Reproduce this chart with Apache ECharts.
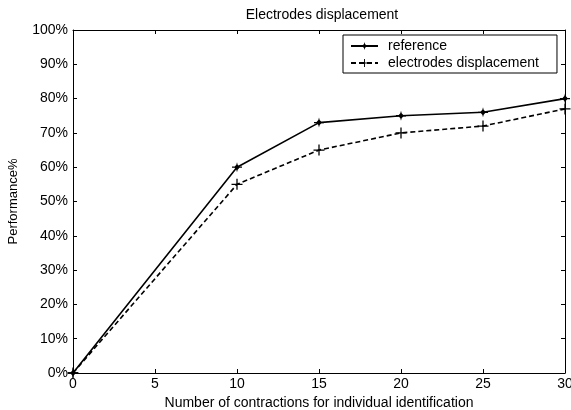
<!DOCTYPE html>
<html>
<head>
<meta charset="utf-8">
<script src="https://cdn.jsdelivr.net/npm/echarts@6/dist/echarts.min.js"></script>
<style>
html,body{margin:0;padding:0;background:#fff;}
#chart{width:571px;height:410px;}
</style>
</head>
<body>
<div id="chart"></div>
<script>
var xValues = [0, 10, 15, 20, 25, 30];
var referenceValues = [0, 60, 73, 75, 76, 80];
var electrodeValues = [0, 55, 65, 70, 72, 77];
var xTicks = [0, 5, 10, 15, 20, 25, 30];
var yTicks = ['0%','10%','20%','30%','40%','50%','60%','70%','80%','90%','100%'];

var FONT = '"Liberation Sans", Arial, sans-serif';
var FS = 14;
var plusPath = 'path://M-0.7,-6 L0.7,-6 L0.7,-0.7 L6,-0.7 L6,0.7 L0.7,0.7 L0.7,6 L-0.7,6 L-0.7,0.7 L-6,0.7 L-6,-0.7 L-0.7,-0.7 Z';
var starPath = 'path://M0,-6 L0.8,-3 L3.5,0 L0.8,3 L0,6 L-0.8,3 L-3.5,0 L-0.8,-3 Z M-6,-0.8 L6,-0.8 L6,0.8 L-6,0.8 Z';

function pairs(xs, ys){ return xs.map(function(x,i){ return [x, ys[i]]; }); }

var chart = echarts.init(document.getElementById('chart'));
function axisCommon(){
  return {
    axisLine: {show: true, onZero: false, lineStyle: {color: '#000', width: 1}},
    axisTick: {show: true, inside: true, length: 4, lineStyle: {color: '#000'}},
    splitLine: {show: false}
  };
}
chart.setOption({
  animation: false,
  backgroundColor: '#fff',
  textStyle: {fontFamily: FONT},
  title: {
    text: 'Electrodes displacement',
    left: 317, top: 3, textAlign: 'center',
    textStyle: {fontFamily: FONT, fontSize: 14, fontWeight: 'normal', color: '#000'}
  },
  legend: {
    left: 343, top: 35,
    orient: 'vertical',
    backgroundColor: '#fff',
    borderColor: '#000', borderWidth: 1, borderRadius: 0,
    padding: [4, 18, 3, 7],
    itemWidth: 27, itemHeight: 10, itemGap: 3,
    textStyle: {fontFamily: FONT, fontSize: 14, color: '#000', padding: [0, 0, 0, 5]},
    data: ['reference', 'electrodes displacement']
  },
  grid: {left: 73, top: 30, right: 6, bottom: 37, containLabel: false, outerBoundsMode: 'none'},
  xAxis: [
    Object.assign({
      type: 'value', min: 0, max: 30, interval: 5,
      name: 'Number of contractions for individual identification',
      nameLocation: 'middle', nameGap: 20,
      nameTextStyle: {fontFamily: FONT, fontSize: FS, color: '#000'},
      axisLabel: {color: '#000', fontSize: FS, fontFamily: FONT, margin: 4,
        formatter: function(v){ return xTicks.indexOf(v) >= 0 ? String(v) : ''; }}
    }, axisCommon()),
    Object.assign({
      type: 'value', min: 0, max: 30, interval: 5, position: 'top',
      axisLabel: {show: false}
    }, axisCommon())
  ],
  yAxis: [
    Object.assign({
      type: 'value', min: 0, max: 100, interval: 10,
      name: 'Performance%', nameLocation: 'middle', nameGap: 53,
      nameTextStyle: {fontFamily: FONT, fontSize: 13, color: '#000'},
      axisLabel: {color: '#000', fontSize: FS, fontFamily: FONT, margin: 5,
        formatter: function(v){ return yTicks[Math.round(v/10)]; }}
    }, axisCommon()),
    Object.assign({
      type: 'value', min: 0, max: 100, interval: 10, position: 'right',
      axisLabel: {show: false}
    }, axisCommon())
  ],
  series: [
    {
      name: 'reference', type: 'line',
      data: pairs(xValues, referenceValues),
      symbol: starPath, symbolSize: 10, showSymbol: true,
      lineStyle: {color: '#000', width: 1.6, type: 'solid'},
      itemStyle: {color: '#000'}
    },
    {
      name: 'electrodes displacement', type: 'line',
      data: pairs(xValues, electrodeValues),
      symbol: plusPath, symbolSize: 11, showSymbol: true,
      lineStyle: {color: '#000', width: 1.6, type: [5, 3]},
      itemStyle: {color: '#000'}
    }
  ]
});
</script>
</body>
</html>
